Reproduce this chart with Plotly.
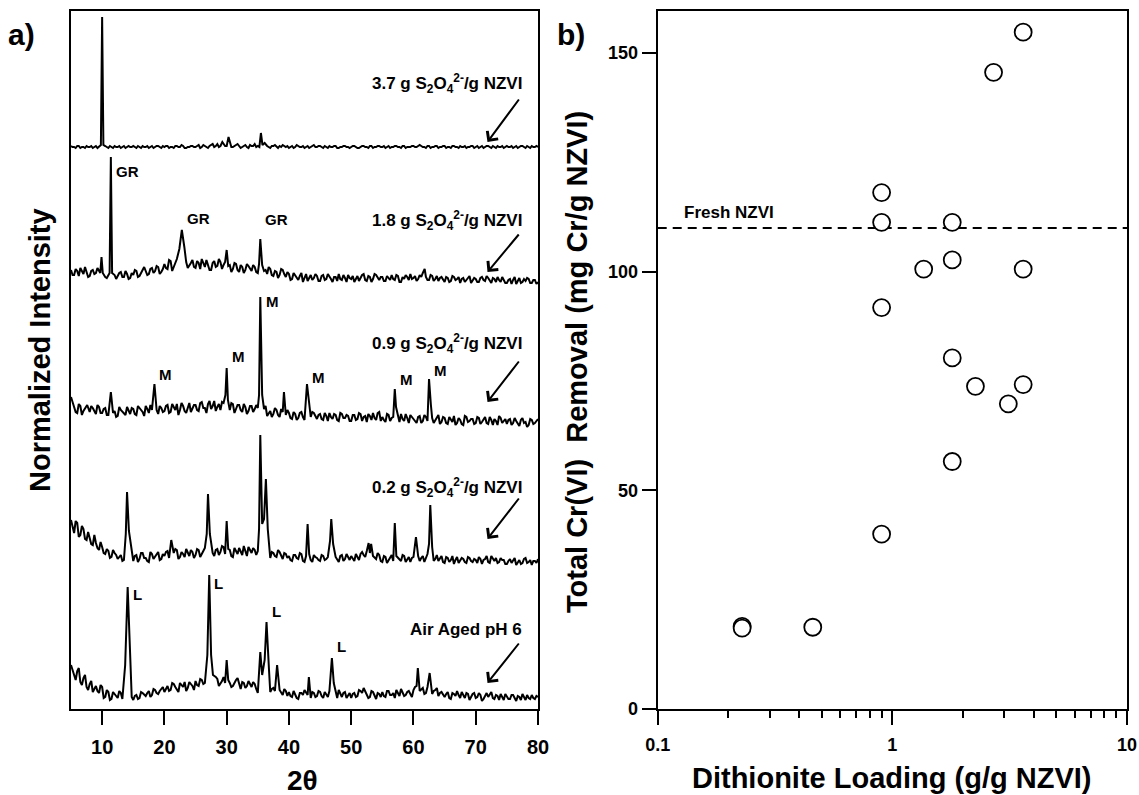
import numpy as np
import plotly.graph_objects as go

W, H = 1139, 795
FONT = "Liberation Sans, Arial, Helvetica, sans-serif"

# ---------------- panel a: XRD patterns ----------------
two_theta_grid = np.round(np.arange(5.0, 80.01, 0.5), 2)   # 5.0, 5.5, ... 80.0
two_theta_mid = np.round(np.arange(5.25, 80.0, 0.5), 2)    # 5.25, 5.75, ... 79.75

base_37 = [1, 0, 1, -1, 0, 1, 0, -1, 1, 0,
           0, 1, -1, 0, 1, 0, -1, 1, 0, 0,
           1, -1, 0, 1, 0, -1, 1, 0, 1, -1,
           0, 1, 0, -1, 1, 0, 1, -1, 0, 1,
           0, 2, 0, 1, -1, 2, 0, 3, 1, 2,
           1, 4, 0, 2, 1, 0, 2, -1, 1, 3,
           1, 0, 2, 1, -1, 1, 0, 1, 2, 0,
           -1, 1, 0, 1, 0, -1, 1, 0, 2, 0,
           1, -1, 0, 1, 0, 1, -1, 0, 1, 0,
           0, 1, -1, 0, 1, 0, 1, -1, 0, 1,
           0, -1, 1, 0, 1, 0, -1, 1, 0, 0,
           1, 0, 2, 0, -1, 1, 0, 1, -1, 0,
           1, 0, -1, 1, 0, 1, 0, -1, 0, 1,
           0, -1, 1, 0, 1, -1, 0, 1, 0, -1,
           1, 0, -1, 1, 0, 1, -1, 0, 1, 0,
           0]
mid_37 = [0, -1, 1, 0, -1, 0, 1, 0, -1, 1,
          -1, 0, 1, -1, 0, 1, 0, -1, 1, 0,
          0, 1, -1, 0, 1, 0, -1, 1, 0, 1,
          1, -1, 0, 1, 0, 2, -1, 0, 1, 0,
          1, -1, 2, 0, 1, 3, 1, 0, 2, 1,
          3, 0, 1, 3, -1, 1, 0, 2, 1, 0,
          0, 2, -1, 0, 1, 2, -1, 0, 1, 1,
          0, -1, 2, 0, 1, 0, -1, 1, 0, 1,
          0, 1, -1, 0, 1, -1, 0, 1, 0, -1,
          1, 0, -1, 1, 0, -1, 1, 0, 1, 0,
          1, 0, -1, 0, 1, 0, 1, -1, 0, 1,
          0, 1, 1, 0, 1, -1, 0, 1, 0, 1,
          -1, 0, 1, 0, -1, 0, 1, 0, 1, -1,
          1, 0, -1, 1, 0, 1, -1, 0, 1, 0,
          0, 1, 0, -1, 1, 0, 1, -1, 0, 1]
peaks_37 = {9.8: 2, 10.0: 130, 10.2: 2, 29.3: 5, 30.3: 10, 35.5: 14, 36.1: 4}

base_18 = [9, 4, 8, 11, 5, 7, 3, 9, 6, 8,
           5, 2, 6, 1, 4, 3, 7, 2, 5, 1,
           4, 8, 3, 9, 7, 5, 11, 8, 12, 7,
           15, 10, 18, 12, 20, 14, 9, 17, 13, 19,
           11, 16, 20, 12, 15, 9, 18, 13, 17, 14,
           8, 14, 10, 15, 7, 12, 9, 13, 8, 12,
           6, 14, 8, 5, 10, 3, 7, 4, 9, 2,
           5, 0, 4, -1, 6, 2, -2, 4, 1, 3,
           -2, 4, 0, 3, -3, 2, 5, -1, 1, 4,
           0, -3, 3, 1, 5, -2, 2, 0, 4, -1,
           2, -2, 1, 4, -1, 3, -3, 0, 2, 5,
           1, -2, 4, 6, 2, -1, 3, 0, -2, 2,
           -3, 1, -2, 2, 0, -4, 1, -1, 3, -2,
           0, -3, 2, -2, 1, -4, 0, 2, -3, -1,
           -4, 0, -1, -5, 1, -3, -2, 0, -4, -1,
           -3]
mid_18 = [4, 10, 3, 7, 12, 2, 8, 5, 11, 3,
          8, 1, 7, 3, 0, 6, 2, 8, 0, 6,
          9, 2, 7, 12, 4, 10, 6, 13, 5, 10,
          11, 19, 8, 16, 10, 17, 21, 11, 16, 12,
          18, 10, 15, 19, 9, 16, 12, 20, 10, 17,
          13, 7, 16, 9, 14, 6, 15, 10, 14, 7,
          10, 3, 9, 12, 4, 8, 1, 10, 5, 7,
          -1, 6, 1, 3, -3, 5, 2, -1, 5, -2,
          3, -1, 5, 0, 2, -2, 0, 4, -3, 1,
          3, 1, -2, 4, -1, 3, -3, 5, 1, 2,
          -2, 3, -1, 0, 4, -3, 2, 4, -1, 0,
          3, 0, 2, 9, -1, 4, -2, 3, 1, -1,
          2, -3, 3, -1, 2, 0, -3, 2, -4, 1,
          -3, 1, -1, 3, -2, 1, -3, -1, 2, -4,
          -1, -5, 2, -2, -4, 0, 1, -4, -1, -5]
peaks_18 = {9.7: 6, 9.9: 22, 10.1: 6, 11.2: 6, 11.4: 122, 11.6: 6,
            22.4: 30, 22.8: 49, 23.2: 32, 30.0: 29, 35.2: 15, 35.4: 40,
            35.7: 14, 61.8: 10}

base_09 = [18, 8, 2, 9, 4, 10, 3, 7, 1, 8,
           2, 7, 0, 6, 4, -1, 5, 2, 8, 1,
           6, 0, 7, 3, 9, 2, 5, 8, 1, 7,
           4, 10, 3, 8, 11, 5, 9, 2, 12, 6,
           10, 4, 13, 7, 11, 6, 14, 8, 5, 12,
           9, 5, 11, 6, 10, 3, 8, 4, 9, 6,
           7, 2, 6, -1, 4, 1, 5, -2, 3, 0,
           2, -4, 1, -3, 3, -5, 0, -2, 2, -4,
           1, -5, -1, 2, -4, 0, -6, 1, -3, -1,
           -6, 0, -4, 1, -2, -7, -1, 2, -5, 3,
           -2, -7, 0, -3, -8, -1, 1, -6, -3, 0,
           -4, -8, -1, -6, -2, -9, -3, -5, 0, -7,
           -3, -9, -4, -1, -8, -5, -10, -2, -6, -4,
           -8, -3, -7, -2, -9, -5, -4, -10, -3, -6,
           -9, -4, -8, -6, -11, -3, -7, -10, -5, -8,
           -4]
mid_09 = [12, 3, 11, 0, 7, 1, 9, 4, 10, 2,
          6, 0, 9, 2, -2, 8, 3, 0, 5, 7,
          1, 9, 4, -1, 6, 10, 0, 5, 9, 3,
          9, 2, 11, 5, 0, 12, 4, 8, 3, 10,
          5, 12, 7, 2, 14, 9, 4, 11, 13, 6,
          4, 12, 2, 10, 5, 11, 1, 9, 3, 10,
          0, 6, 9, 2, -2, 7, 0, 6, -1, 5,
          -3, 3, -5, 2, -2, 1, -6, 3, -1, 0,
          -4, 2, -6, -2, 1, -5, 2, -3, 0, -6,
          0, -5, 2, -6, -1, 1, -5, -3, 2, -6,
          -5, 1, -6, -2, 0, -7, -4, 1, -8, -2,
          -7, -2, -8, 0, -6, -1, -8, -3, -9, -2,
          -8, -2, -7, -10, -3, -9, -1, -7, -4, -9,
          -2, -9, -4, -8, -2, -10, -6, -1, -8, -4,
          -5, -10, -3, -9, -5, -8, -12, -4, -9, -6]
peaks_09 = {7.6: 10, 11.4: 23, 18.4: 31, 29.8: 20, 30.0: 47, 30.2: 15,
            35.2: 20, 35.4: 118, 35.7: 20, 39.2: 23, 42.9: 31, 43.2: 12,
            57.0: 26, 57.2: 8, 62.5: 36, 62.8: 10}

base_02 = [39, 26, 36, 24, 30, 19, 22, 14, 16, 9,
           12, 5, 8, 2, 6, 0, 4, -1, 3, 1,
           -2, 4, 0, 6, 1, -3, 5, 2, 7, 0,
           3, 8, 1, 6, 9, 2, 5, 10, 3, 7,
           4, 9, 6, 11, 5, 8, 3, 10, 7, 12,
           5, 9, 2, 8, 11, 4, 7, 12, 6, 9,
           8, 6, 3, 9, 1, 6, 2, 7, 0, 5,
           3, -2, 4, 0, 5, -3, 2, -1, 4, 1,
           -2, 3, 0, 5, -1, 2, -3, 4, 0, 1,
           3, -2, 2, 5, 4, 8, 6, 3, 0, 4,
           -3, 2, -1, 4, -4, 1, -2, 3, 0, -3,
           2, 6, -2, 3, 1, -4, 2, 0, -2, 3,
           -4, 1, -1, -5, 2, -2, 0, -4, 1, -3,
           -1, 2, -5, 0, -3, 3, -2, -4, 1, -1,
           -5, 0, -2, -6, -1, -4, 1, -3, -6, -2,
           0]
mid_02 = [31, 38, 22, 33, 20, 27, 15, 24, 11, 17,
          6, 10, 1, 9, 4, 2, -2, 5, 0, 6,
          3, -3, 6, 1, -2, 7, 0, 4, -1, 5,
          7, 1, 5, 10, 0, 7, 2, 6, 9, 1,
          10, 2, 8, 4, 12, 6, 9, 4, 13, 5,
          10, 3, 11, 5, 7, 13, 3, 9, 11, 4,
          3, 10, 5, 1, 7, 3, 9, 4, 6, 1,
          -1, 4, 1, 6, -2, 3, 5, -3, 2, -1,
          4, -1, 2, -2, 6, 0, 3, -2, 5, -1,
          0, 5, -1, 7, 2, 5, 9, 1, 6, -2,
          3, -4, 2, -2, 3, -1, 4, -3, 2, 1,
          -2, 3, 1, -3, 5, 0, -2, 4, 1, -3,
          2, -3, 3, -1, -4, 1, -3, 2, -2, 0,
          -4, 0, -1, 3, -4, 0, 1, -3, -1, -5,
          -2, -4, 1, -3, -5, 0, -4, -1, -2, -4]
peaks_02 = {13.8: 25, 14.0: 67, 14.3: 28, 21.1: 19, 26.8: 25, 27.0: 65,
            27.3: 25, 30.0: 38, 35.2: 30, 35.4: 124, 35.7: 35, 36.0: 40,
            36.3: 80, 36.6: 30, 43.0: 35, 46.6: 18, 46.8: 40, 47.1: 15,
            52.8: 16, 53.2: 15, 57.0: 36, 60.4: 22, 62.5: 15, 62.7: 54,
            63.0: 12}

base_air = [30, 20, 24, 13, 17, 8, 11, 3, 9, 2,
            8, -2, 3, -4, 1, -3, 2, -5, 0, 3,
            -5, 0, -3, 2, -1, 4, 0, 5, 1, 6,
            3, 9, 5, 11, 6, 12, 8, 4, 13, 9,
            14, 9, 15, 12, 8, 13, 10, 16, 11, 18,
            20, 12, 9, 15, 10, 13, 7, 14, 8, 11,
            2, 6, 4, 9, 3, 7, 1, 5, 0, 4,
            3, -2, 1, -4, 2, 5, 0, -3, 2, -1,
            3, -3, 1, 4, -1, 2, 5, -2, 3, 0,
            -3, 2, -1, 4, 7, 0, -2, 3, -4, 1,
            3, -2, 4, 0, -3, 2, 6, -1, 3, 1,
            5, 9, 4, 7, 2, 6, 1, 5, -1, 3,
            -2, 3, -4, 1, 4, -3, 0, 2, -5, 1,
            -3, 2, -6, 0, -2, 3, -4, -1, 1, -5,
            -1, -4, 0, -6, -2, 1, -5, -3, 0, -4,
            -2]
mid_air = [25, 15, 27, 10, 20, 5, 14, 7, 4, 10,
           -3, 5, -5, 3, -1, 4, -4, 1, 2, -2,
           -1, -4, 3, 0, 2, -2, 6, 2, 4, 8,
           7, 4, 12, 8, 3, 10, 13, 7, 11, 5,
           10, 16, 11, 7, 15, 12, 18, 9, 14, 12,
           15, 8, 13, 17, 6, 12, 9, 11, 13, 6,
           8, 3, 7, 1, 6, 4, 8, 2, 6, -1,
           -1, 4, -3, 2, 0, 2, -4, 3, -2, 4,
           -1, 3, -2, 1, 4, -3, 1, 2, -3, 2,
           1, -2, 5, 2, 3, -3, 4, 0, 2, -2,
           -1, 4, 0, 2, 5, -1, 3, 0, 4, -2,
           8, 3, 6, 1, 8, 2, 4, 7, 2, 0,
           1, -3, 2, -1, 0, 3, -3, 1, -2, 2,
           -2, 0, -4, 2, 1, -3, 0, -5, -2, 1,
           -4, 0, -3, -1, -5, -2, 0, -4, -3, -1]
peaks_air = {13.7: 30, 14.1: 108, 14.5: 35, 26.9: 40, 27.2: 120, 27.5: 40,
             27.8: 20, 30.0: 35, 35.4: 43, 35.7: 20, 36.1: 35, 36.4: 73,
             36.8: 25, 38.1: 30, 43.2: 18, 46.9: 37, 47.2: 12, 60.7: 27,
             62.6: 22}

sample_labels = ["3.7 g S<sub>2</sub>O<sub>4</sub><sup>2-</sup>/g NZVI",
                 "1.8 g S<sub>2</sub>O<sub>4</sub><sup>2-</sup>/g NZVI",
                 "0.9 g S<sub>2</sub>O<sub>4</sub><sup>2-</sup>/g NZVI",
                 "0.2 g S<sub>2</sub>O<sub>4</sub><sup>2-</sup>/g NZVI",
                 "Air Aged pH 6"]
bases = [base_37, base_18, base_09, base_02, base_air]
mids = [mid_37, mid_18, mid_09, mid_02, mid_air]
peaks = [peaks_37, peaks_18, peaks_09, peaks_02, peaks_air]
offsets = [562, 430, 294, 150, 14]

# phase labels: (label, 2theta position, height above axis)
phase_labels = [("GR", 11.4, 537), ("GR", 22.8, 490), ("GR", 35.4, 489),
                ("M", 18.4, 335), ("M", 30.1, 353), ("M", 35.5, 408),
                ("M", 42.9, 332), ("M", 57.0, 330), ("M", 62.5, 339),
                ("L", 14.1, 114), ("L", 27.2, 125), ("L", 36.4, 97),
                ("L", 46.9, 62)]

# ---------------- panel b: Cr(VI) removal ----------------
dithionite_loading = [3.61, 2.70, 0.90, 0.90, 1.80, 1.36, 1.80, 3.61, 0.90,
                      1.80, 2.26, 3.61, 3.12, 1.80, 0.90, 0.229, 0.229, 0.458]
cr_removal = [154.8, 145.6, 118.1, 111.3, 111.3, 100.6, 102.7, 100.6, 91.8,
              80.3, 73.8, 74.2, 69.8, 56.6, 40.0, 18.9, 18.5, 18.7]
fresh_nzvi = 110.0


def pxx(x):
    return x / W


def pxy(y):
    return 1 - y / H


fig = go.Figure()

for base, mid, pk, off in zip(bases, mids, peaks, offsets):
    pts = dict(zip([float(v) for v in two_theta_grid], base))
    pts.update(zip([float(v) for v in two_theta_mid], mid))
    # drop noise samples that fall inside a listed peak
    for p in pk:
        for x in list(pts):
            if abs(x - p) < 0.2 and x not in pk:
                del pts[x]
    pts.update(pk)
    xs = sorted(pts)
    ys = [pts[x] + off for x in xs]
    fig.add_trace(go.Scatter(x=xs, y=ys, mode="lines",
                             line=dict(color="black", width=2),
                             xaxis="x", yaxis="y", showlegend=False,
                             hoverinfo="skip"))

fig.add_trace(go.Scatter(x=[0.1, 10], y=[fresh_nzvi, fresh_nzvi], mode="lines",
                         line=dict(color="black", width=2, dash="9px,6px"),
                         xaxis="x2", yaxis="y2", showlegend=False))
fig.add_trace(go.Scatter(x=dithionite_loading, y=cr_removal, mode="markers",
                         marker=dict(symbol="circle", size=17, color="white",
                                     line=dict(color="black", width=1.8)),
                         xaxis="x2", yaxis="y2", showlegend=False,
                         cliponaxis=False))

ydom = [pxy(709), pxy(10.7)]
axis_common = dict(showline=True, linewidth=2, linecolor="black", mirror=True,
                   showgrid=False, zeroline=False, automargin=False)

fig.update_layout(
    width=W, height=H,
    margin=dict(l=0, r=0, t=0, b=0, pad=0, autoexpand=False),
    paper_bgcolor="white", plot_bgcolor="white",
    font=dict(family=FONT, color="black"),
    xaxis=dict(domain=[pxx(71), pxx(538)], range=[5, 80],
               tickmode="array", tickvals=[10, 20, 30, 40, 50, 60, 70, 80],
               ticks="outside", ticklen=14, tickwidth=2, tickcolor="black",
               ticklabelstandoff=5,
               tickfont=dict(size=20, family=FONT, weight="bold"),
               anchor="y", **axis_common),
    yaxis=dict(domain=ydom, range=[0, 698.3], showticklabels=False,
               ticks="", anchor="x", **axis_common),
    xaxis2=dict(domain=[pxx(657.7), pxx(1127)], type="log", range=[-1, 1],
                tickmode="array", tickvals=[0.1, 1, 10],
                ticktext=["0.1", "1", "10"],
                ticks="outside", ticklen=14, tickwidth=2, tickcolor="black",
                ticklabelstandoff=4,
                tickfont=dict(size=18, family=FONT, weight="bold"),
                minor=dict(ticks="outside", ticklen=7, tickwidth=2,
                           tickcolor="black",
                           tickvals=[0.2, 0.3, 0.4, 0.5, 0.6, 0.7, 0.8, 0.9,
                                     2, 3, 4, 5, 6, 7, 8, 9]),
                anchor="y2", **axis_common),
    yaxis2=dict(domain=ydom, range=[0, 159.7], tickmode="array",
                tickvals=[0, 50, 100, 150],
                ticks="outside", ticklen=14, tickwidth=2, tickcolor="black",
                tickfont=dict(size=18, family=FONT, weight="bold"),
                anchor="x2", **axis_common),
)

ann = []


def text(t, x, y, size, angle=0, xanchor="center", yanchor="middle"):
    ann.append(dict(text=t, x=pxx(x), y=pxy(y), xref="paper", yref="paper",
                    showarrow=False, textangle=angle, xanchor=xanchor,
                    yanchor=yanchor,
                    font=dict(size=size, family=FONT, color="black",
                              weight="bold")))


text("a)", 21.5, 35, 30)
text("b)", 571, 35, 30)
text("Normalized Intensity", 40, 350, 29, angle=-90)
text("2θ", 302, 780, 28)
text("Total Cr(VI)  Removal (mg Cr/g NZVI)", 577, 362, 29, angle=-90)
text("Dithionite Loading (g/g NZVI)", 892, 778, 29)
text("Fresh NZVI", 682, 213, 17, xanchor="left")

label_y = [84, 221, 343, 487, 629]
arrow_tail = [98, 233, 360, 497, 642]
arrow_head = [142, 272, 402, 539, 683]
for lab, ly, ty, hy in zip(sample_labels, label_y, arrow_tail, arrow_head):
    text(lab, 524, ly, 17, xanchor="right")
    ann.append(dict(text="", x=pxx(487.5), y=pxy(hy), xref="paper",
                    yref="paper", showarrow=True, ax=32.5, ay=ty - hy,
                    arrowhead=4, arrowsize=1.3, arrowwidth=2,
                    arrowcolor="black", standoff=0))

for lab, tt, h in phase_labels:
    ann.append(dict(text=lab, x=tt, y=h, xref="x", yref="y",
                    showarrow=False, xanchor="left", xshift=3,
                    yanchor="middle",
                    font=dict(size=15, family=FONT, color="black",
                              weight="bold")))

fig.update_layout(annotations=ann)
fig.write_html("out.html")
